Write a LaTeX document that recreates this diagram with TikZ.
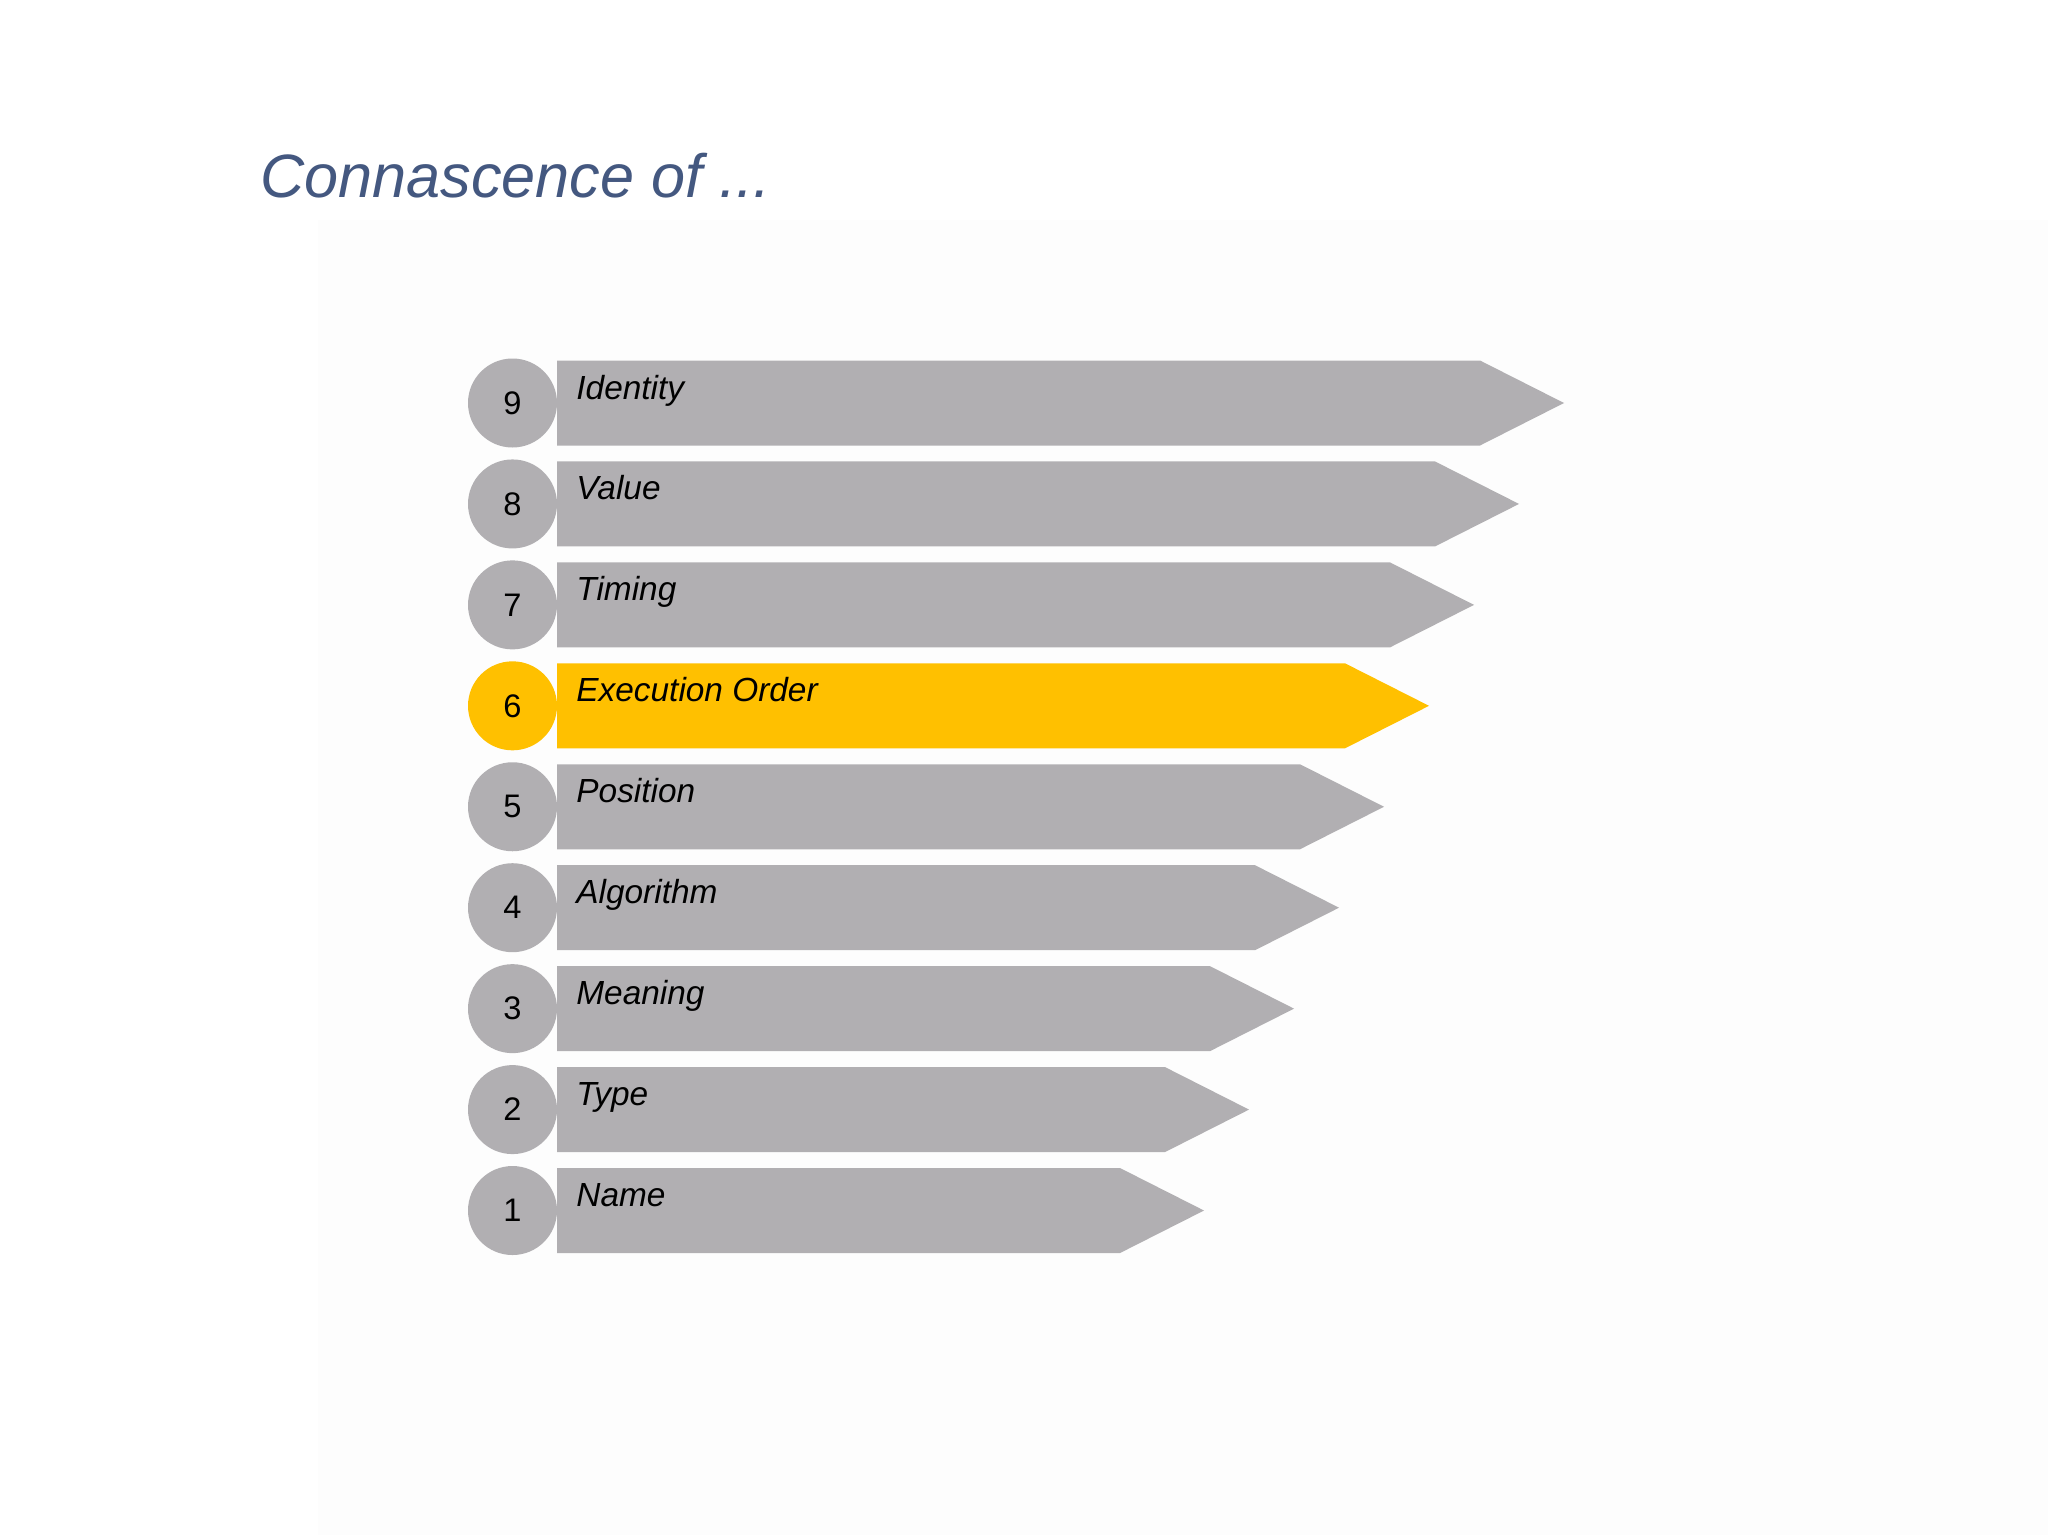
\documentclass[tikz,border=0pt]{standalone}
\usepackage{fontspec}
\setmainfont{Liberation Sans}
\definecolor{bargray}{HTML}{B1AFB2}
\definecolor{baryellow}{HTML}{FFC000}
\definecolor{titleblue}{HTML}{445880}
\definecolor{bgfaint}{HTML}{FDFDFD}
\begin{document}
\begin{tikzpicture}[x=0.5pt,y=-0.5pt,
  num/.style={circle, inner sep=0pt, minimum size=44.5pt, font=\fontsize{16.3}{19}\selectfont},
  lab/.style={anchor=base west, inner sep=0pt, font=\fontsize{16.7}{20}\selectfont\itshape},
  titlestyle/.style={anchor=base west, inner sep=0pt, text=titleblue, font=\fontsize{30.6}{36}\selectfont\itshape}]
\useasboundingbox (0,0) rectangle (2048,1535);
\fill[white] (0,0) rectangle (2048,1535);
\fill[bgfaint] (318,220) rectangle (2048,1535);
\node[titlestyle] (title) at (260,198) {Connascence of ...};
\foreach \i/\t/\col in {9/Identity/bargray, 8/Value/bargray, 7/Timing/bargray, 6/Execution Order/baryellow, 5/Position/bargray, 4/Algorithm/bargray, 3/Meaning/bargray, 2/Type/bargray, 1/Name/bargray} {
  \pgfmathsetmacro\yc{403+(9-\i)*100.94}
  \pgfmathsetmacro\xe{1120+(\i-1)*45}
  \fill[\col] (557,\yc-42.5) -- (\xe,\yc-42.5) -- (\xe+84,\yc) -- (\xe,\yc+42.5) -- (557,\yc+42.5) -- cycle;
  \node[num, fill=\col] (n\i) at (512.5,\yc) {\i};
  \node[lab] (l\i) at (576,\yc-4) {\t};
}
\end{tikzpicture}
\end{document}
